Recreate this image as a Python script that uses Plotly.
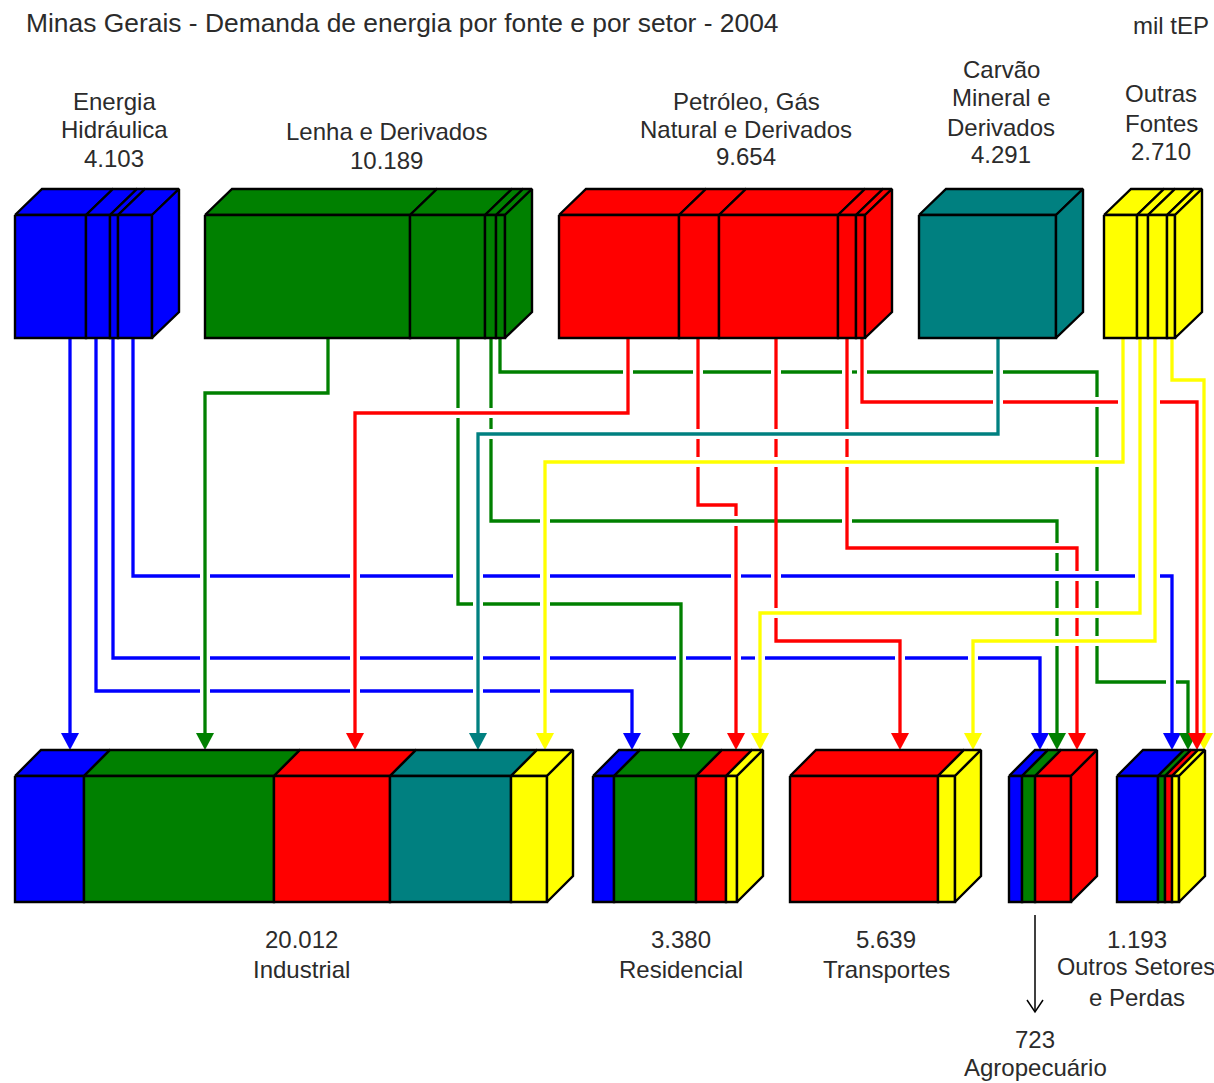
"""Minas Gerais energy demand 2004: source blocks, flow lines, sector blocks."""

import numpy as np
import plotly.graph_objects as go

BLUE = "#0000FF"
GREEN = "#008000"
RED = "#FF0000"
TEAL = "#008080"
YELLOW = "#FFFF00"
TEXT = "#2b2b2b"
FONT = "Liberation Sans"

# values in mil tEP, totals from the labels, the splits
HIDRAULICA = [2126, 719, 240, 1018]
LENHA = [6963, 2547, 374, 305]
PETROLEO = [3786, 1262, 3754, 568, 284]
CARVAO = [4291]
OUTRAS = [1260, 420, 725, 305]

INDUSTRIAL = [2595, 7147, 4364, 4552, 1354]
RESIDENCIAL = [493, 1925, 704, 258]
TRANSPORTES = [5058, 581]
AGROPECUARIO = [152, 152, 419]
OUTROS_SETORES = [789, 135, 135, 134]

# block: values, colours, left edge, front width
SOURCES = [
    (HIDRAULICA, [BLUE] * 4, 15, 137),
    (LENHA, [GREEN] * 4, 205, 300),
    (PETROLEO, [RED] * 5, 559, 306),
    (CARVAO, [TEAL], 919, 137),
    (OUTRAS, [YELLOW] * 4, 1104, 71),
]
SECTORS = [
    (INDUSTRIAL, [BLUE, GREEN, RED, TEAL, YELLOW], 15, 532),
    (RESIDENCIAL, [BLUE, GREEN, RED, YELLOW], 593, 144),
    (TRANSPORTES, [RED, YELLOW], 790, 165),
    (AGROPECUARIO, [BLUE, GREEN, RED], 1009, 62),
    (OUTROS_SETORES, [BLUE, GREEN, RED, YELLOW], 1117, 62),
]

# colour, route, crossings where the line passes under another one
FLOWS = [
    (BLUE, [(70, 338), (70, 733)], []),
    (BLUE, [(96, 338), (96, 691), (632, 691), (632, 733)],
     [(x, 691) for x in (205, 355, 478, 545)]),
    (BLUE, [(113, 338), (113, 658), (1040, 658), (1040, 733)],
     [(x, 658) for x in (205, 355, 478, 545, 681, 736, 760, 900, 973)]),
    (BLUE, [(133, 338), (133, 576), (1172, 576), (1172, 733)],
     [(x, 576) for x in (205, 355, 458, 468, 478, 545, 736, 776, 1140, 1148, 1155)]),
    (GREEN, [(328, 338), (328, 393), (205, 393), (205, 733)], []),
    (GREEN, [(458, 338), (458, 604), (681, 604), (681, 733)],
     [(458, 413), (478, 604), (545, 604)]),
    (GREEN, [(491, 338), (491, 521), (1057, 521), (1057, 733)],
     [(491, 413), (491, 434), (545, 521), (847, 521),
      (1057, 548), (1057, 576), (1057, 613), (1057, 641)]),
    (GREEN, [(500, 338), (500, 372), (1097, 372), (1097, 682), (1188, 682), (1188, 733)],
     [(628, 372), (698, 372), (776, 372), (847, 372), (862, 372), (998, 372),
      (1097, 402), (1097, 462), (1097, 576), (1097, 613), (1097, 641), (1171, 682)]),
    (YELLOW, [(1172, 338), (1172, 380), (1204, 380), (1204, 733)], []),
    (RED, [(862, 338), (862, 402), (1197, 402), (1197, 733)],
     [(998, 402), (1123, 402), (1131, 402), (1140, 402), (1148, 402), (1155, 402)]),
    (RED, [(628, 338), (628, 413), (355, 413), (355, 733)], []),
    (RED, [(698, 338), (698, 505), (736, 505), (736, 733)],
     [(698, 434), (698, 462), (736, 521)]),
    (RED, [(776, 338), (776, 641), (900, 641), (900, 733)],
     [(776, 434), (776, 462), (776, 613)]),
    (RED, [(847, 338), (847, 548), (1077, 548), (1077, 733)],
     [(847, 434), (847, 462), (1077, 576), (1077, 613), (1077, 641)]),
    (TEAL, [(998, 338), (998, 434), (478, 434), (478, 733)], []),
    (YELLOW, [(1123, 338), (1123, 462), (545, 462), (545, 733)], []),
    (YELLOW, [(1140, 338), (1140, 613), (760, 613), (760, 733)], []),
    (YELLOW, [(1155, 338), (1155, 641), (973, 641), (973, 733)], []),
]

# text, x, y, anchor
LABELS = [
    ("mil tEP", 1211, 25, "right"),
    ("Energia", 114, 101, "center"), ("Hidráulica", 114, 129, "center"), ("4.103", 114, 158, "center"),
    ("Lenha e Derivados", 386, 131, "center"), ("10.189", 386, 160, "center"),
    ("Petróleo, Gás", 746, 101, "center"), ("Natural e Derivados", 746, 129, "center"),
    ("9.654", 746, 156, "center"),
    ("Carvão", 1001, 69, "center"), ("Mineral e", 1001, 97, "center"), ("Derivados", 1001, 127, "center"),
    ("4.291", 1001, 154, "center"),
    ("Outras", 1161, 93, "center"), ("Fontes", 1161, 123, "center"), ("2.710", 1161, 151, "center"),
    ("20.012", 301, 939, "center"), ("Industrial", 301, 969, "center"),
    ("3.380", 681, 939, "center"), ("Residencial", 681, 969, "center"),
    ("5.639", 886, 939, "center"), ("Transportes", 886, 969, "center"),
    ("1.193", 1137, 939, "center"), ("Outros Setores", 1055, 967, "left"), ("e Perdas", 1137, 997, "center"),
    ("723", 1035, 1039, "center"), ("Agropecuário", 1035, 1067, "center"),
]
TITLE = "Minas Gerais - Demanda de energia por fonte e por setor - 2004"

GAP = 5
ARROW_HALF = 9
ARROW_LEN = 17


def polygon(fig, xs, ys, fill):
    fig.add_trace(go.Scatter(
        x=xs, y=ys, mode="lines", fill="toself", fillcolor=fill,
        line=dict(color="black", width=2.4), hoverinfo="skip", showlegend=False,
    ))


def draw_block(fig, values, colours, left, width, top, front_top, front_bottom, depth):
    """Front and top faces per segment, one side face on the right."""
    edges = left + np.concatenate([[0], np.cumsum(values)]) * width / sum(values)
    for i, colour in enumerate(colours):
        x0, x1 = edges[i], edges[i + 1]
        polygon(fig, [x0, x0 + depth, x1 + depth, x1, x0],
                [front_top, top, top, front_top, front_top], colour)
        polygon(fig, [x0, x1, x1, x0, x0],
                [front_top, front_top, front_bottom, front_bottom, front_top], colour)
    right = edges[-1]
    polygon(fig, [right, right + depth, right + depth, right, right],
            [front_top, top, front_bottom - (front_top - top), front_bottom, front_top], colours[-1])


def merged_gaps(centres):
    """Sorted (start, end) intervals, neighbouring crossings joined into one."""
    out = []
    for c in sorted(centres):
        if out and c - GAP <= out[-1][1]:
            out[-1][1] = c + GAP
        else:
            out.append([c - GAP, c + GAP])
    return out


def split_route(route, gaps):
    """Turn a route into x, y lists with breaks at the crossings."""
    xs, ys = [], []
    for (x0, y0), (x1, y1) in zip(route, route[1:]):
        xs.append(x0)
        ys.append(y0)
        if y0 == y1:
            hits = merged_gaps(g[0] for g in gaps if g[1] == y0 and min(x0, x1) < g[0] < max(x0, x1))
            if x1 < x0:
                hits = [[b, a] for a, b in reversed(hits)]
            for a, b in hits:
                xs += [a, None, b]
                ys += [y0, None, y0]
        else:
            hits = merged_gaps(g[1] for g in gaps if g[0] == x0 and min(y0, y1) < g[1] < max(y0, y1))
            if y1 < y0:
                hits = [[b, a] for a, b in reversed(hits)]
            for a, b in hits:
                xs += [x0, None, x0]
                ys += [a, None, b]
    xs.append(route[-1][0])
    ys.append(route[-1][1])
    return xs, ys


fig = go.Figure()

for colour, route, gaps in FLOWS:
    xs, ys = split_route(route, gaps)
    fig.add_trace(go.Scatter(
        x=xs, y=ys, mode="lines", line=dict(color=colour, width=3.3),
        hoverinfo="skip", showlegend=False, connectgaps=False,
    ))
    tip_x, tip_y = route[-1]
    fig.add_trace(go.Scatter(
        x=[tip_x - ARROW_HALF, tip_x + ARROW_HALF, tip_x, tip_x - ARROW_HALF],
        y=[tip_y, tip_y, tip_y + ARROW_LEN, tip_y],
        mode="lines", fill="toself", fillcolor=colour, line=dict(color=colour, width=0),
        hoverinfo="skip", showlegend=False,
    ))

for values, colours, left, width in SOURCES:
    draw_block(fig, values, colours, left, width, 189, 215, 338, 27)
for values, colours, left, width in SECTORS:
    draw_block(fig, values, colours, left, width, 750, 776, 902, 26)

# thin arrow down to the agricultural sector
fig.add_trace(go.Scatter(
    x=[1035, 1035, None, 1027, 1035, 1043], y=[915, 1011, None, 1000, 1012, 1000],
    mode="lines", line=dict(color="black", width=1.5), hoverinfo="skip", showlegend=False,
))

fig.add_annotation(x=24, y=23, text=TITLE, showarrow=False, xanchor="left", yanchor="middle",
                   font=dict(family=FONT, size=26.4, color=TEXT))
for text, x, y, anchor in LABELS:
    size = 23.5 if text == "Outros Setores" else 24
    fig.add_annotation(x=x, y=y, text=text, showarrow=False, xanchor=anchor, yanchor="middle",
                       font=dict(family=FONT, size=size, color=TEXT))

fig.update_layout(
    width=1214, height=1083, margin=dict(l=0, r=0, t=0, b=0),
    plot_bgcolor="white", paper_bgcolor="white",
    xaxis=dict(range=[0, 1214], visible=False, fixedrange=True),
    yaxis=dict(range=[1083, 0], visible=False, fixedrange=True),
)

fig.write_html("out.html", config=dict(displayModeBar=False),
               post_script="document.body.style.margin='0';document.body.style.overflow='hidden';")
